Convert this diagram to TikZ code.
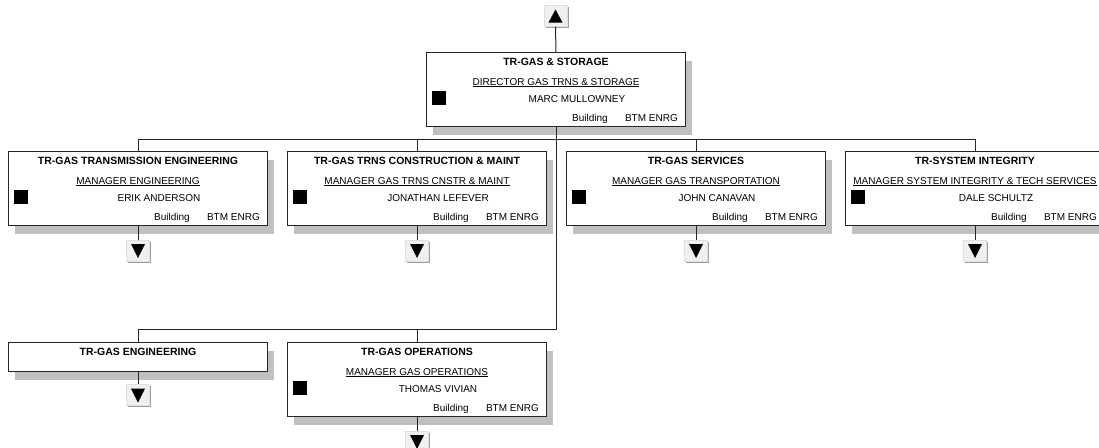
\documentclass[tikz,border=0pt]{standalone}
\usepackage{fontspec}
\setmainfont{Liberation Sans}
\usepackage{tikz}
\usetikzlibrary{positioning,calc,shadows}

\definecolor{shadowgrey}{HTML}{C0C0C0}
\definecolor{btnface}{HTML}{F0F0F0}
\definecolor{btnedge}{HTML}{A0A0A0}

\tikzset{
  unitbox/.style={draw=black!85, line width=1pt, fill=white, anchor=north west, inner sep=0pt,
    minimum width=259pt, minimum height=74pt,
    drop shadow={shadow xshift=6pt, shadow yshift=-8pt, fill=shadowgrey, opacity=1}},
  unittitle/.style={anchor=base, inner sep=0pt, font=\fontsize{10.5}{12}\selectfont\bfseries},
  unittext/.style={anchor=base, inner sep=0pt, font=\fontsize{10}{12}\selectfont},
  navbtn/.style={fill=btnface, draw=black!12, minimum width=23pt, minimum height=21pt, inner sep=0pt,
    drop shadow={shadow xshift=1.5pt, shadow yshift=-1.5pt, fill=btnedge, opacity=1}},
  link/.style={draw=black!85, line width=1pt},
}

% one org unit: name, x, y, unit, position, person
\newcommand\orgunit[6]{%
  \node[unitbox] (#1) at (#2,#3) {};
  \node[unittitle] (#1-t) at ($(#1.north)+(0,13)$) {#4};
  \node[unittext] (#1-j) at ($(#1.north)+(0,33)$) {\underline{#5}};
  \node[unittext] (#1-n) at ($(#1.north west)+(151,50)$) {#6};
  \fill ($(#1.north west)+(6,39)$) rectangle +(14,14);
  \node[unittext, anchor=base west] (#1-b) at ($(#1.north west)+(146,69.5)$) {Building};
  \node[unittext, anchor=base east] (#1-l) at ($(#1.north west)+(252,69.5)$) {BTM ENRG};
}

% expand button under a box: name, box
\newcommand\downbtn[2]{%
  \node[navbtn] (#1) at ($(#2.south)+(0,24.5)$) {};
  \fill ($(#1.center)+(-7,-6.5)$) -- ($(#1.center)+(7,-6.5)$) -- ($(#1.center)+(0,7.5)$) -- cycle;
  \draw[link] (#2.south) -- (#1.north);
}

\begin{document}
\begin{tikzpicture}[x=1pt, y=-1pt]
  \useasboundingbox (0,0) rectangle (1099,447);
  \clip (0,0) rectangle (1099,447);

  \coordinate (bus1) at (0,139);
  \coordinate (bus2) at (0,329);

  % top
  \node[navbtn] (up) at (555.5,16) {};
  \fill ($(up.center)+(-7,6.5)$) -- ($(up.center)+(7,6.5)$) -- ($(up.center)+(0,-6.5)$) -- cycle;
  \orgunit{top}{426}{52}{TR-GAS \& STORAGE}{DIRECTOR GAS TRNS \& STORAGE}{MARC MULLOWNEY}

  % first row
  \orgunit{trans}{8}{151}{TR-GAS TRANSMISSION ENGINEERING}{MANAGER ENGINEERING}{ERIK ANDERSON}
  \orgunit{constr}{287}{151}{TR-GAS TRNS CONSTRUCTION \& MAINT}{MANAGER GAS TRNS CNSTR \& MAINT}{JONATHAN LEFEVER}
  \orgunit{serv}{566}{151}{TR-GAS SERVICES}{MANAGER GAS TRANSPORTATION}{JOHN CANAVAN}
  \orgunit{integ}{845}{151}{TR-SYSTEM INTEGRITY}{MANAGER SYSTEM INTEGRITY \& TECH SERVICES}{DALE SCHULTZ}

  % second row
  \node[unitbox, minimum height=29pt] (eng) at (8,342) {};
  \node[unittitle] (eng-t) at ($(eng.north)+(0,13)$) {TR-GAS ENGINEERING};
  \orgunit{ops}{287}{342}{TR-GAS OPERATIONS}{MANAGER GAS OPERATIONS}{THOMAS VIVIAN}

  % connectors
  \draw[link] (up.south) -- (top.north);
  \draw[link] (top.south) -- (top.south |- bus2) -| (eng.north);
  \draw[link] (trans.north) |- (integ.north |- bus1) -- (integ.north);
  \draw[link] (constr.north) -- (constr.north |- bus1);
  \draw[link] (serv.north) -- (serv.north |- bus1);
  \draw[link] (ops.north) -- (ops.north |- bus2);

  \downbtn{trans-dn}{trans}
  \downbtn{constr-dn}{constr}
  \downbtn{serv-dn}{serv}
  \downbtn{integ-dn}{integ}
  \node[navbtn] (eng-dn) at ($(eng.south)+(0,23)$) {};
  \fill ($(eng-dn.center)+(-7,-6.5)$) -- ($(eng-dn.center)+(7,-6.5)$) -- ($(eng-dn.center)+(0,7.5)$) -- cycle;
  \draw[link] (eng.south) -- (eng-dn.north);
  \downbtn{ops-dn}{ops}
\end{tikzpicture}
\end{document}
